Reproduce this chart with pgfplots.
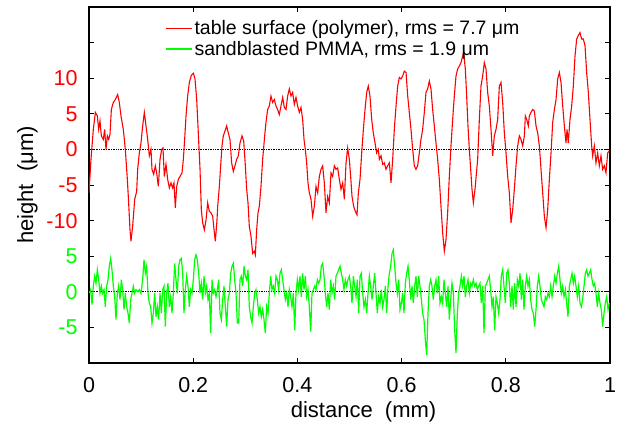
\documentclass[border=0pt]{standalone}
\usepackage{fontspec}
\setmainfont{Liberation Sans}
\usepackage{pgfplots}
\pgfplotsset{compat=1.18}
\usepackage{pgfplotstable}
\definecolor{gpred}{RGB}{255,0,0}
\definecolor{gpgreen}{RGB}{0,255,0}

\pgfplotstableread{
x h
0 -6.1
0.0038 -1.4
0.0083 2.8
0.0122 5.2
0.016 4.7
0.0186 2.8
0.0211 4.0
0.0237 1.9
0.0275 1.4
0.0301 2.8
0.0326 0
0.0352 1.9
0.0378 1.4
0.0403 2.1
0.0429 5.6
0.0467 6.6
0.0505 7.0
0.055 7.7
0.0582 6.6
0.0614 4.7
0.0659 2.8
0.0697 0
0.0736 -4.2
0.0761 -7.5
0.0787 -11.3
0.0806 -12.9
0.0838 -10.8
0.0877 -7.0
0.0915 -5.9
0.0934 -2.8
0.0966 -0.5
0.0998 0.9
0.103 3.3
0.1062 5.2
0.1094 3.3
0.1126 1.4
0.1158 -0.9
0.119 0
0.1209 -2.8
0.1241 -3.5
0.1273 -2.3
0.1299 -3.3
0.1331 -5.2
0.1363 -1.4
0.1395 0
0.142 0.2
0.1446 -3.8
0.1478 -2.1
0.151 -4.2
0.1542 -5.4
0.1574 -4.7
0.1606 -5.4
0.1631 -4.7
0.1657 -8.2
0.1683 -5.2
0.1715 -4.2
0.1747 -3.8
0.1785 -3.3
0.1811 -1.4
0.1836 1.4
0.1862 4.7
0.1894 7.5
0.1926 9.4
0.1964 10.4
0.2003 10.7
0.2035 9.9
0.2067 7.0
0.2098 2.3
0.2131 -2.8
0.2156 -8.5
0.2182 -10.3
0.2214 -11.3
0.2246 -9.9
0.2278 -7.5
0.231 -8.7
0.2342 -8.9
0.2374 -9.4
0.2406 -11.7
0.2425 -12.9
0.2457 -9.9
0.247 -8.0
0.2502 -5.2
0.2527 -2.3
0.2553 0.5
0.2578 1.9
0.261 2.6
0.2642 3.3
0.2674 2.3
0.2706 1.4
0.2738 -1.9
0.277 -3.1
0.2802 -2.3
0.2834 -1.4
0.2866 -0.9
0.2898 0.9
0.2937 1.9
0.2969 1.2
0.3001 -2.3
0.3026 -5.6
0.3052 -7.5
0.3077 -10.8
0.3109 -12.2
0.3141 -14.6
0.3173 -14.3
0.3193 -14.8
0.3218 -11.3
0.3244 -8.9
0.3269 -8.0
0.3301 -5.2
0.3333 -1.4
0.3372 1.9
0.3397 3.8
0.3429 5.6
0.3461 6.1
0.3493 7.5
0.3525 6.6
0.3557 7.0
0.3589 6.1
0.3621 5.6
0.3653 4.9
0.3685 6.1
0.3717 7.3
0.3749 5.9
0.3781 5.6
0.3813 7.5
0.3845 8.5
0.3877 7.5
0.3909 8.0
0.3941 6.3
0.3973 7.3
0.4005 6.1
0.4037 5.2
0.4069 5.9
0.4101 4.2
0.4127 1.4
0.4152 0
0.4178 -1.9
0.4203 -4.7
0.4229 -6.1
0.4261 -7.0
0.4293 -9.4
0.4325 -8.0
0.4357 -5.2
0.4389 -6.1
0.4421 -3.8
0.4453 -2.8
0.4485 -2.3
0.4517 -4.7
0.4549 -8.9
0.4581 -6.6
0.4613 -7.5
0.4645 -3.3
0.4677 -3.8
0.4709 -2.3
0.4741 -2.8
0.4773 -2.6
0.4805 -4.2
0.4837 -5.6
0.4869 -4.7
0.4901 -7.0
0.4933 -1.9
0.4965 0.2
0.4997 -1.4
0.5022 -3.8
0.5048 -6.6
0.508 -8.0
0.5112 -8.7
0.5144 -9.2
0.517 -6.1
0.5202 -4.2
0.5234 -0.5
0.5266 2.8
0.5298 5.6
0.533 8.0
0.5361 8.9
0.5393 7.5
0.5426 4.2
0.5457 2.3
0.549 0.9
0.5521 -0.5
0.5553 0
0.5573 -1.4
0.5605 -0.9
0.5637 -2.1
0.5669 -1.9
0.57 -2.8
0.5733 -2.3
0.5765 -1.9
0.5797 -4.7
0.5829 -1.4
0.586 2.8
0.5893 6.1
0.5925 8.9
0.5956 10.1
0.5988 9.9
0.602 10.3
0.6052 11.0
0.6085 10.8
0.6117 7.5
0.6148 5.2
0.618 2.8
0.6213 0
0.6244 -2.3
0.6276 -2.8
0.6308 -2.3
0.634 -0.5
0.6372 1.4
0.6404 2.8
0.6436 5.2
0.6468 8.0
0.65 8.5
0.6532 9.6
0.6564 8.5
0.6596 5.6
0.6628 3.3
0.666 0.9
0.6692 -1.4
0.6724 -4.2
0.6756 -8.0
0.6788 -11.7
0.682 -14.3
0.6852 -12.7
0.6884 -8.9
0.6916 -3.8
0.6948 0.5
0.698 4.2
0.7012 7.5
0.7044 10.3
0.7076 11.3
0.7108 11.7
0.714 12.2
0.7172 13.1
0.7191 13.6
0.7223 11.3
0.7249 7.5
0.7274 3.3
0.73 0
0.7326 -2.8
0.7351 -5.6
0.7377 -7.5
0.7409 -5.6
0.746 -1.4
0.7492 4.2
0.7524 8.9
0.7556 10.3
0.7588 12.2
0.762 11.3
0.7652 8.0
0.7684 6.1
0.7716 2.8
0.7748 -0.9
0.778 1.9
0.7812 2.8
0.7844 4.2
0.7876 8.9
0.7908 9.4
0.794 6.6
0.7972 2.3
0.8004 -0.5
0.8036 -3.8
0.8068 -6.1
0.81 -10.3
0.8132 -8.5
0.8164 -5.6
0.8196 -2.3
0.8228 0.5
0.826 1.9
0.8292 1.4
0.8324 0.5
0.8356 1.9
0.8375 4.7
0.8401 4.2
0.8432 3.3
0.8452 4.7
0.8484 5.2
0.8516 5.6
0.8548 5.4
0.858 3.3
0.8612 2.3
0.8644 0.5
0.8676 -2.8
0.8708 -6.1
0.874 -9.4
0.8772 -11.0
0.8804 -8.5
0.8836 -4.2
0.8868 -0.5
0.89 3.8
0.8932 5.6
0.8964 7.0
0.8996 9.9
0.9028 10.8
0.906 9.4
0.9092 6.1
0.9124 3.3
0.9155 0.9
0.9175 2.8
0.92 0.9
0.9232 4.2
0.9264 6.1
0.9296 8.9
0.9328 13.1
0.936 15.5
0.9392 16.0
0.9424 16.4
0.9456 15.5
0.9488 15.5
0.952 14.6
0.9552 10.8
0.9584 8.0
0.9616 4.2
0.9648 0.5
0.9667 -0.9
0.9699 0.5
0.9731 -1.9
0.9763 -0.5
0.9795 -2.3
0.9827 -0.9
0.9859 -2.8
0.9891 -2.3
0.9923 -3.3
0.9955 -0.5
0.9987 -0.2
}\redtable

\pgfplotstableread{
x h
0.0006 -0.2
0.0032 0.3
0.0058 -1.8
0.0083 0.8
0.0109 2.2
0.0134 1.2
0.016 3.1
0.0186 1.7
0.0211 -0.2
0.0237 0.8
0.0262 -0.2
0.0288 0.3
0.0313 -2.1
0.0339 0.8
0.0365 1.7
0.039 3.6
0.0416 4.7
0.0441 3.1
0.0467 0.8
0.0493 -0.7
0.0518 -3.9
0.0544 -0.2
0.0569 0.8
0.0595 -1.1
0.0621 1.7
0.0646 0.3
0.0672 -2.5
0.0697 -0.2
0.0723 -2.1
0.0749 -3.0
0.0774 -4.4
0.08 -1.1
0.0825 -0.2
0.0851 0.8
0.0877 -0.2
0.0902 0.3
0.094 0
0.0966 0.3
0.0998 -0.2
0.103 1.7
0.1056 4.5
0.1081 2.6
0.1107 3.6
0.1132 -0.2
0.1158 -1.6
0.1184 -2.1
0.1209 -4.4
0.1235 -3.0
0.126 -0.2
0.1286 -3.5
0.1312 -2.1
0.1337 -3.9
0.1363 -0.2
0.1388 -3.0
0.1414 0.3
0.144 0.8
0.1465 -4.9
0.1491 -0.2
0.1516 1.2
0.1542 -2.1
0.1568 -0.7
0.1593 -3.0
0.1619 -0.2
0.1644 4.0
0.167 1.7
0.1695 -0.2
0.1721 3.6
0.1747 4.5
0.1772 4.7
0.1798 2.6
0.1823 -3.0
0.1849 0.3
0.1875 2.2
0.19 0.8
0.1926 -2.1
0.1951 0.3
0.1977 -0.2
0.2003 1.7
0.2028 4.5
0.2054 5.2
0.2079 4.5
0.2105 2.6
0.2131 -0.2
0.2156 1.2
0.2182 -1.1
0.2207 2.2
0.2233 -0.2
0.2258 0.8
0.2284 -1.1
0.231 -0.2
0.2335 -5.8
0.2361 1.7
0.2386 -0.2
0.2412 0.3
0.2438 -0.7
0.2463 0.3
0.2489 1.7
0.2514 -3.0
0.254 -3.9
0.2566 -1.1
0.2591 0.8
0.2617 -2.1
0.2642 -4.9
0.2668 -1.1
0.2694 -0.2
0.2719 2.6
0.2745 3.6
0.277 4.0
0.2796 1.7
0.2822 -0.2
0.2847 -4.4
0.2873 -4.4
0.2898 1.7
0.2924 2.2
0.295 0.8
0.2975 3.6
0.3001 2.2
0.3026 1.7
0.3052 3.1
0.3077 -2.1
0.3103 -3.5
0.3129 -4.4
0.3154 -2.1
0.318 -0.2
0.3205 0.3
0.3231 -1.1
0.3257 -3.0
0.3282 -2.1
0.3308 -3.5
0.3333 -2.5
0.3359 -3.9
0.3384 -5.8
0.341 -2.1
0.3436 -3.0
0.3461 -0.2
0.3487 2.2
0.3512 0.3
0.3538 0.8
0.3564 -0.2
0.3589 2.2
0.3615 1.7
0.364 0.3
0.3666 2.6
0.3692 3.1
0.3717 1.7
0.3743 0.3
0.3768 -1.1
0.3794 -0.2
0.382 -2.1
0.3845 0.3
0.3871 -0.7
0.3896 -2.1
0.3922 -0.2
0.3948 -5.4
0.3973 -0.2
0.3999 1.7
0.4024 0.3
0.405 2.2
0.4075 -0.7
0.4101 2.6
0.4127 0.3
0.4152 2.2
0.4178 -0.7
0.4203 0.3
0.4229 -2.1
0.4255 -5.6
0.428 -0.2
0.4306 0.3
0.4332 0.8
0.4357 0.3
0.4383 1.7
0.4408 1.2
0.4434 1.7
0.4459 3.6
0.4485 4.0
0.4511 2.2
0.4536 -0.2
0.4562 -2.1
0.4587 -0.2
0.4613 -2.5
0.4639 1.7
0.4664 -0.2
0.469 0.8
0.4715 -1.1
0.4741 2.2
0.4766 2.6
0.4792 3.1
0.4818 3.6
0.4843 2.6
0.4869 1.7
0.4894 0.3
0.492 1.7
0.4946 0.8
0.4971 1.7
0.4997 2.2
0.5022 0.8
0.5048 -1.6
0.5074 2.2
0.5099 0.8
0.5125 -0.7
0.515 1.7
0.5176 -3.0
0.5202 2.2
0.5227 2.6
0.5253 -0.2
0.5278 -2.1
0.5304 -1.1
0.533 -3.0
0.5355 -0.2
0.5381 2.2
0.5406 0.8
0.5432 -1.1
0.5457 0.8
0.5483 2.6
0.5509 -0.2
0.5534 -3.0
0.556 -0.7
0.5585 -1.6
0.5611 0.3
0.5637 -2.1
0.5662 -1.1
0.5688 0.8
0.5713 -3.0
0.5739 0.8
0.5765 2.6
0.579 3.6
0.5816 5.4
0.5841 5.9
0.5867 3.6
0.5893 1.2
0.5918 -0.2
0.5944 1.7
0.5969 -2.5
0.5995 -1.6
0.602 -0.2
0.6046 -3.0
0.6072 1.2
0.6097 2.6
0.6123 3.6
0.6148 1.7
0.6174 -1.1
0.62 0.8
0.6225 -1.6
0.6251 0.8
0.6276 2.2
0.6302 -0.7
0.6328 2.2
0.6353 0.8
0.6379 -1.1
0.6404 -3.0
0.643 -3.9
0.6456 -6.8
0.6481 -8.9
0.6507 -3.0
0.6532 0.8
0.6558 1.7
0.6583 0.8
0.6609 -1.1
0.6635 0.8
0.666 1.7
0.6686 -0.2
0.6711 2.2
0.6737 -1.6
0.6763 -0.7
0.6788 -1.6
0.6814 1.7
0.6839 -0.2
0.6865 -2.1
0.6891 0.8
0.6916 -3.9
0.6942 -1.1
0.6967 1.2
0.6993 -0.2
0.7019 -5.4
0.7044 -8.6
0.707 -3.0
0.7095 -0.2
0.7121 0.8
0.7147 2.2
0.7172 0.8
0.7198 2.2
0.7223 -0.7
0.7249 0.8
0.7274 1.7
0.73 -0.2
0.7326 1.2
0.7351 0.8
0.7377 1.7
0.7402 0.8
0.7428 1.2
0.7454 0.3
0.7479 0.8
0.7505 1.2
0.753 -1.6
0.7556 0.8
0.7582 -5.8
0.7607 0.8
0.7633 1.2
0.7658 1.7
0.7684 2.2
0.7709 0.3
0.7735 -2.1
0.7761 -0.7
0.7786 -5.4
0.7812 -0.7
0.7838 -1.6
0.7863 -3.0
0.7889 -1.1
0.7914 2.2
0.794 3.1
0.7965 0.8
0.7991 -1.6
0.8017 2.6
0.8042 3.1
0.8068 1.2
0.8093 -2.1
0.8119 0.8
0.8145 -2.5
0.817 1.2
0.8196 -2.1
0.8221 1.7
0.8247 0.8
0.8273 2.6
0.8298 -1.1
0.8324 1.7
0.8349 -2.5
0.8375 0.8
0.8401 2.2
0.8426 0.8
0.8452 1.7
0.8477 -1.1
0.8503 -2.5
0.8528 -3.0
0.8554 -4.9
0.858 -2.5
0.8605 0.8
0.8631 2.2
0.8656 0.8
0.8682 -1.1
0.8708 -1.6
0.8733 -2.1
0.8759 -0.7
0.8784 -1.1
0.881 -0.2
0.8835 -0.7
0.8861 0.8
0.8887 -0.7
0.8912 0.8
0.8938 2.2
0.8964 1.2
0.8989 2.6
0.9015 3.6
0.904 1.7
0.9066 -0.2
0.9092 0.8
0.9117 -0.7
0.9143 0.3
0.9168 -1.6
0.9194 -3.5
0.922 0.8
0.9245 1.7
0.9271 2.6
0.9296 1.2
0.9322 2.2
0.9347 0.8
0.9373 -0.7
0.9399 0.8
0.9424 -1.6
0.945 -2.1
0.9475 -1.1
0.9501 0.8
0.9527 2.6
0.9552 3.1
0.9578 2.2
0.9603 2.6
0.9629 3.1
0.9655 1.7
0.968 0.8
0.9706 1.2
0.9731 -0.2
0.9757 -2.1
0.9782 -0.2
0.9808 -1.6
0.9834 -2.5
0.9859 -4.9
0.9885 -3.0
0.991 -1.6
0.9936 -0.7
0.9962 -2.5
0.9987 -1.6
}\greentable

\begin{document}
\begin{tikzpicture}
\path[use as bounding box] (-89pt,-65pt) rectangle (545pt,363pt);
\begin{axis}[
  scale only axis, width=521pt, height=356pt,
  xmin=0, xmax=1, ymin=-30, ymax=20,
  axis line style={line width=1.5pt},
  xtick={0,0.2,0.4,0.6,0.8,1},
  xticklabels={0,0.2,0.4,0.6,0.8,1},
  ytick={-25,-20,-15,-10,-5,0,5,10,15},
  yticklabels={\textcolor{gpgreen}{-5},\textcolor{gpgreen}{0},\textcolor{gpgreen}{5},\textcolor{gpred}{-10},\textcolor{gpred}{-5},\textcolor{gpred}{0},\textcolor{gpred}{5},\textcolor{gpred}{10},{}},
  tick style={black, line width=0.8pt},
  major tick length=5pt,
  tick label style={font=\fontsize{21.5}{25}\selectfont},
  xticklabel style={yshift=-11pt},
  yticklabel style={xshift=-8pt},
  xlabel={distance\ \ (mm)},
  ylabel={height\ \ (μm)},
  xlabel style={font=\fontsize{22}{26}\selectfont, at={(axis description cs:0.527,-0.1376)}, anchor=center},
  ylabel style={font=\fontsize{22}{26}\selectfont, at={(axis description cs:-0.118,0.5)}, anchor=center},
  legend style={at={(0.14,0.974)}, anchor=north west, draw=none, fill=none,
    font=\fontsize{19.5}{23}\selectfont, row sep=1pt},
  legend cell align=left,
  legend image code/.code={\draw[#1, line width=1.4pt] (0pt,0pt) -- (26pt,0pt);},
]
\addplot[forget plot, black, densely dotted, line width=0.7pt] coordinates {(0,0) (1,0)};
\addplot[forget plot, black, densely dotted, line width=0.7pt] coordinates {(0,-20) (1,-20)};
\addplot[gpred, line width=1.1pt] table[x=x, y=h] {\redtable};
\addlegendentry{table surface (polymer), rms = 7.7 μm}
\addplot[gpgreen, line width=1.2pt] table[x=x, y expr=\thisrow{h}-20] {\greentable};
\addlegendentry{sandblasted PMMA, rms = 1.9 μm}
\end{axis}
\end{tikzpicture}
\end{document}
